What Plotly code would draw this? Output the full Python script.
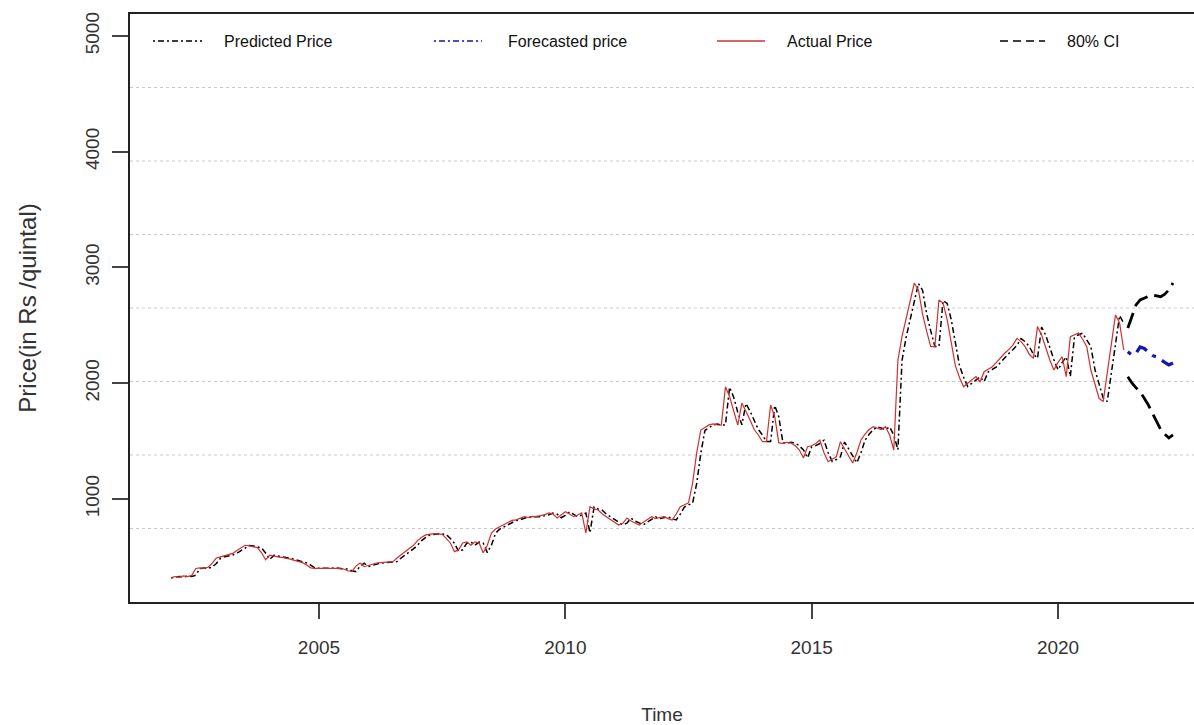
import plotly.graph_objects as go

# ---------------- data (monthly, Jan 2002 .. May 2021) ----------------
start_year = 2002
actual_price = [
    320, 330, 325, 335, 330, 340, 400, 405, 400, 410, 445, 490,      # 2002
    500, 510, 515, 530, 555, 575, 600, 595, 590, 580, 535, 475,      # 2003
    515, 505, 500, 495, 490, 480, 470, 460, 450, 430, 405, 400,      # 2004
    400, 400, 402, 405, 400, 398, 395, 380, 372, 420, 447, 415,      # 2005
    425, 440, 447, 450, 452, 455, 458, 490, 516, 545, 570, 600,      # 2006
    640, 670, 690, 695, 700, 698, 695, 660, 620, 545, 560, 620,      # 2007
    630, 600, 630, 620, 535, 600, 706, 740, 760, 780, 800, 815,      # 2008
    820, 835, 847, 840, 850, 847, 855, 865, 879, 870, 836, 860,      # 2009
    890, 870, 847, 862, 880, 706, 933, 915, 905, 870, 847, 820,      # 2010
    800, 775, 790, 836, 810, 790, 775, 800, 820, 847, 830, 840,      # 2011
    847, 830, 818, 870, 933, 950, 966, 1138, 1400, 1596, 1620, 1640, # 2012
    1648, 1640, 1639, 1970, 1884, 1750, 1639, 1829, 1760, 1683, 1600, 1553,  # 2013
    1495, 1495, 1812, 1711, 1484, 1480, 1490, 1484, 1460, 1423, 1354, 1452,  # 2014
    1460, 1480, 1510, 1400, 1322, 1340, 1365, 1495, 1430, 1365, 1311, 1400,  # 2015
    1510, 1560, 1600, 1625, 1613, 1600, 1625, 1550, 1423, 2200, 2402, 2550,  # 2016
    2693, 2866, 2806, 2600, 2450, 2316, 2316, 2719, 2693, 2550, 2350, 2150,  # 2017
    2050, 1970, 2000, 2030, 2057, 2013, 2100, 2120, 2143, 2180, 2220, 2259,  # 2018
    2290, 2330, 2388, 2360, 2316, 2250, 2215, 2489, 2417, 2300, 2201, 2114,  # 2019
    2180, 2229, 2057, 2402, 2420, 2434, 2380, 2316, 2114, 2000, 1870, 1841,  # 2020
    2100, 2345, 2590, 2520, 2287,                                            # 2021
]
predicted_price = [
    318, 322, 331, 326, 334, 331, 342, 398, 404, 401, 411, 443,
    488, 501, 509, 516, 531, 553, 574, 598, 594, 589, 578, 533,
    478, 513, 505, 499, 494, 489, 479, 469, 459, 448, 428, 405,
    401, 400, 400, 402, 404, 400, 397, 394, 380, 373, 419, 445,
    416, 426, 440, 447, 450, 452, 455, 459, 490, 515, 544, 569,
    600, 640, 668, 689, 694, 699, 697, 693, 659, 618, 547, 561,
    618, 629, 601, 628, 619, 537, 600, 704, 739, 759, 779, 799,
    814, 821, 834, 846, 841, 849, 847, 855, 864, 878, 869, 838,
    859, 888, 869, 848, 861, 879, 708, 930, 914, 903, 869, 846,
    821, 801, 777, 791, 834, 809, 790, 777, 801, 820, 845, 830,
    839, 846, 829, 819, 869, 931, 949, 965, 1135, 1395, 1592, 1618,
    1640, 1647, 1640, 1640, 1965, 1880, 1748, 1641, 1825, 1758, 1682, 1601,
    1553, 1496, 1496, 1808, 1709, 1486, 1481, 1489, 1483, 1459, 1424, 1356,
    1450, 1461, 1479, 1508, 1401, 1324, 1341, 1364, 1492, 1429, 1366, 1313,
    1399, 1508, 1559, 1599, 1624, 1612, 1601, 1623, 1551, 1425, 2195, 2398,
    2548, 2690, 2861, 2804, 2601, 2451, 2318, 2317, 2715, 2690, 2548, 2351,
    2152, 2052, 1972, 1999, 2029, 2055, 2015, 2098, 2119, 2142, 2179, 2219,
    2257, 2289, 2329, 2386, 2359, 2317, 2251, 2216, 2486, 2415, 2301, 2203,
    2116, 2178, 2227, 2059, 2398, 2419, 2432, 2379, 2317, 2116, 2001, 1872,
    1843, 2098, 2342, 2585, 2518,
]
# forecast horizon: Jun 2021 .. May 2022
forecast_start = 2021 + 5 / 12
forecast_price = [2273, 2244, 2260, 2313, 2300, 2270, 2240, 2227, 2200, 2180, 2158, 2175]
ci80_upper = [2477, 2575, 2676, 2720, 2737, 2750, 2762, 2755, 2748, 2770, 2806, 2866]
ci80_lower = [2057, 2002, 1960, 1927, 1870, 1812, 1740, 1668, 1600, 1560, 1527, 1553]

x_ticks = [2005, 2010, 2015, 2020]
y_ticks = [1000, 2000, 3000, 4000, 5000]
legend_labels = ["Predicted Price", "Forecasted price", "Actual Price", "80% CI"]

# ---------------- time index ----------------
t_hist = [start_year + i / 12 for i in range(len(actual_price))]
t_pred = [start_year + i / 12 for i in range(len(predicted_price))]
t_fc = [forecast_start + i / 12 for i in range(len(forecast_price))]

X_RANGE = [2001.164, 2022.76]
Y_RANGE = [110, 5190]

RED = "#d03030"
BLUE = "#1515b0"
FONT = "Liberation Sans, Arial, sans-serif"

PRED_DASH = "2px,3px,6px,3px"
FC_DASH = "4px,7px,14px,7px"
CI_DASH = "16px,7px"

fig = go.Figure()
fig.add_trace(go.Scatter(x=t_pred, y=predicted_price, mode="lines", name=legend_labels[0],
                         line=dict(color="black", width=1.5, dash=PRED_DASH), showlegend=False))
fig.add_trace(go.Scatter(x=t_hist, y=actual_price, mode="lines", name=legend_labels[2],
                         line=dict(color=RED, width=1.2), showlegend=False))
fig.add_trace(go.Scatter(x=t_fc, y=forecast_price, mode="lines", name=legend_labels[1],
                         line=dict(color=BLUE, width=3.2, dash=FC_DASH), showlegend=False))
fig.add_trace(go.Scatter(x=t_fc, y=ci80_upper, mode="lines", name=legend_labels[3],
                         line=dict(color="black", width=2.8, dash=CI_DASH), showlegend=False))
fig.add_trace(go.Scatter(x=t_fc, y=ci80_lower, mode="lines", name=legend_labels[3] + " (lower)",
                         line=dict(color="black", width=2.8, dash=CI_DASH), showlegend=False))

shapes = []
# horizontal dotted grid (R grid(): usr range split in 8)
for k in range(1, 8):
    gy = Y_RANGE[0] + k * (Y_RANGE[1] - Y_RANGE[0]) / 8
    shapes.append(dict(type="line", xref="paper", yref="y", x0=0, x1=1, y0=gy, y1=gy,
                       line=dict(color="#c8c8c8", width=1, dash="dot"), layer="below"))

# manual legend (R style, no box)
W = 1194
plot_l, plot_w = 130, 1064
plot_t, plot_h = 14, 588
def px(x):
    return (x - plot_l) / plot_w
def py(y):
    return 1 - (y - plot_t) / plot_h

leg_y = 41
leg_items = [
    (153, 202, 222, dict(color="black", width=1.3, dash="2px,3px,6px,3px")),
    (434, 482, 506, dict(color=BLUE, width=1.3, dash="2px,3px,6px,3px")),
    (717, 765, 785, dict(color=RED, width=1.4)),
    (1000, 1045, 1065, dict(color="black", width=1.4, dash="8px,5px")),
]
annotations = []
for (s0, s1, tx, ln), lab in zip(leg_items, legend_labels):
    shapes.append(dict(type="line", xref="paper", yref="paper", x0=px(s0), x1=px(s1),
                       y0=py(leg_y), y1=py(leg_y), line=ln))
    annotations.append(dict(text=lab, xref="paper", yref="paper", x=px(tx), y=py(leg_y),
                            xanchor="left", yanchor="middle", showarrow=False,
                            font=dict(family=FONT, size=16, color="#111")))

fig.update_layout(
    width=W, height=725,
    margin=dict(l=plot_l, r=0, t=plot_t, b=725 - plot_t - plot_h, pad=0),
    paper_bgcolor="white", plot_bgcolor="white",
    font=dict(family=FONT, color="#222"),
    shapes=shapes, annotations=annotations,
    showlegend=False,
    xaxis=dict(range=X_RANGE, tickvals=x_ticks, ticktext=[str(v) for v in x_ticks],
               showgrid=False, zeroline=False, showline=True, mirror=True,
               linecolor="#222", linewidth=1.6, ticks="outside", ticklen=15, tickwidth=1.5,
               tickcolor="#444", tickfont=dict(size=19, color="#333"),
               ticklabelstandoff=12,
               title=dict(text="Time", font=dict(size=19, color="#333"), standoff=52)),
    yaxis=dict(range=Y_RANGE, tickvals=y_ticks, ticktext=[str(v) for v in y_ticks],
               showgrid=False, zeroline=False, showline=True, mirror=False,
               linecolor="#222", linewidth=1.6, ticks="outside", ticklen=16, tickwidth=1.5,
               tickcolor="#444", tickfont=dict(size=19, color="#333"), tickangle=-90,
               ticklabelstandoff=6,
               title=dict(text="Price(in Rs /quintal)", font=dict(size=24, color="#333"), standoff=38)),
)

fig.write_html("out.html")
